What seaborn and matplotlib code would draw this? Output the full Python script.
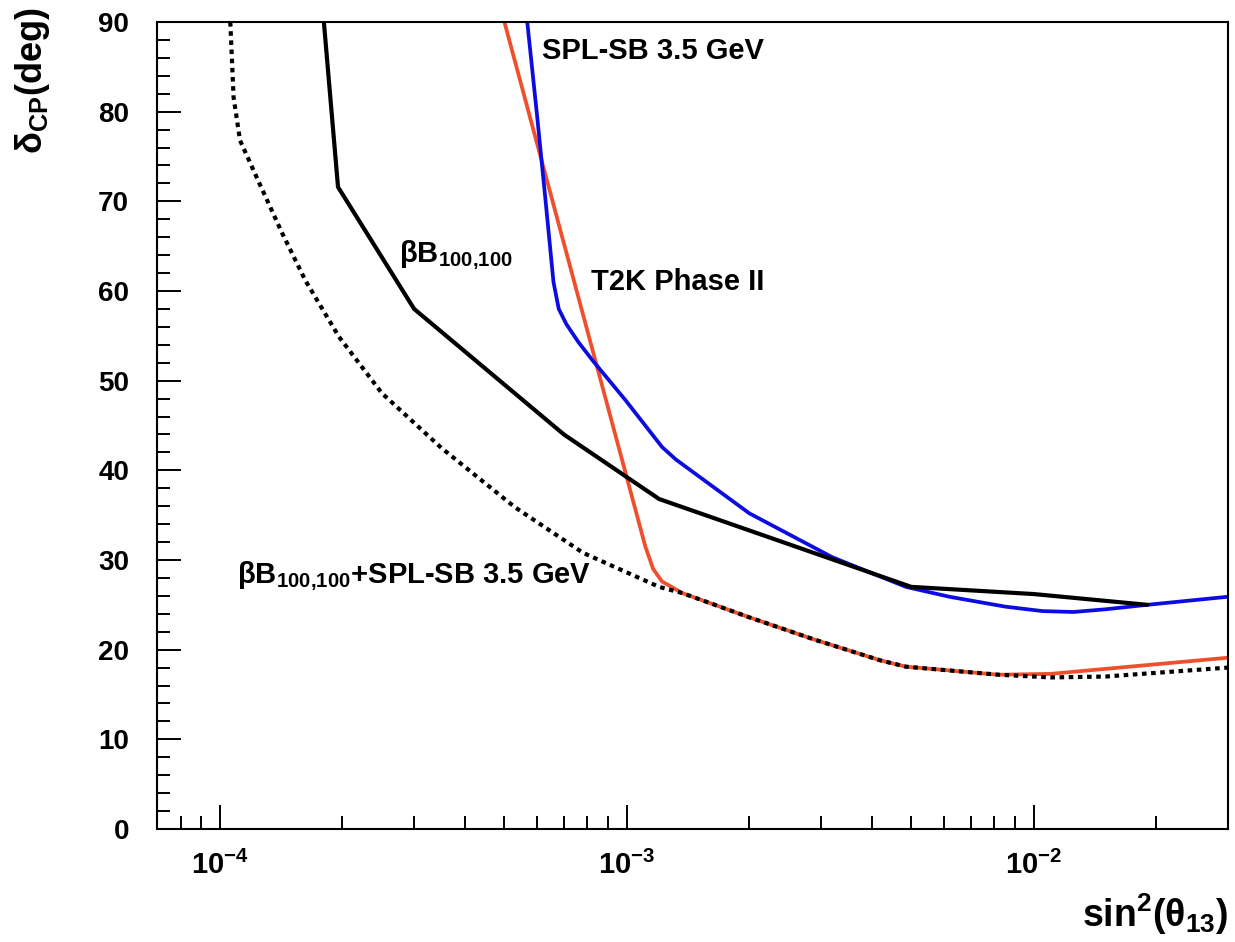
import matplotlib
matplotlib.use('Agg')
import matplotlib.pyplot as plt
import matplotlib.ticker as mticker
import pandas as pd
import seaborn as sns

# curves: x = sin^2(theta13), y = delta_CP (deg)
bb_x = [1.8e-4, 1.95e-4, 3.0e-4, 7.0e-4, 1.2e-3, 5.0e-3, 1.0e-2, 1.9e-2]
bb_y = [90, 71.6, 58.0, 44.0, 36.8, 27.0, 26.2, 25.0]

spl_x = [5.69e-4, 6.02e-4, 6.31e-4, 6.6e-4, 6.8e-4, 7.1e-4, 7.6e-4, 8.22e-4, 9.93e-4,
         1.22e-3, 1.32e-3, 2.0e-3, 3.2e-3, 4.85e-3, 6.2e-3, 8.5e-3, 1.05e-2, 1.25e-2,
         1.5e-2, 1.9e-2, 3.0e-2]
spl_y = [90, 79.4, 70.1, 61.0, 58.0, 56.3, 54.3, 52.3, 47.8,
         42.6, 41.2, 35.2, 30.3, 27.0, 25.9, 24.8, 24.3, 24.2,
         24.5, 25.0, 25.9]

t2k_x = [5.0e-4, 1.11e-3, 1.16e-3, 1.22e-3, 1.37e-3, 2.0e-3, 2.9e-3, 4.2e-3, 4.85e-3,
         8.2e-3, 1.1e-2, 3.0e-2]
t2k_y = [90, 31.5, 29.0, 27.6, 26.3, 23.6, 21.1, 18.8, 18.1, 17.2, 17.3, 19.1]

comb_x = [1.06e-4, 1.08e-4, 1.12e-4, 1.25e-4, 1.42e-4, 1.62e-4, 1.96e-4, 2.5e-4,
          3.5e-4, 5.3e-4, 7.8e-4, 1.2e-3, 1.37e-3, 2.0e-3, 2.9e-3, 4.2e-3,
          4.85e-3, 8.2e-3, 1.1e-2, 1.5e-2, 3.0e-2]
comb_y = [90, 81.6, 76.8, 72.0, 66.5, 61.2, 54.9, 48.6,
          42.5, 35.9, 30.8, 27.0, 26.3, 23.6, 21.1, 18.8,
          18.1, 17.2, 16.9, 17.0, 18.0]

sns.set_theme(style='ticks')
plt.rcParams['font.family'] = ['Liberation Sans', 'DejaVu Sans']
plt.rcParams['font.weight'] = 'bold'
plt.rcParams['axes.labelweight'] = 'bold'
plt.rcParams['text.color'] = 'black'
plt.rcParams['axes.labelcolor'] = 'black'
plt.rcParams['xtick.color'] = 'black'
plt.rcParams['ytick.color'] = 'black'
plt.rcParams['mathtext.default'] = 'regular'

red = '#ef4f2c'
blue = '#0c0ce0'

fig = plt.figure(figsize=(12.35, 9.42), dpi=100)
ax = fig.add_axes([0.1271, 0.1200, 0.8672, 0.8566])

bb = pd.DataFrame({'x': bb_x, 'y': bb_y})
spl = pd.DataFrame({'x': spl_x, 'y': spl_y})
t2k = pd.DataFrame({'x': t2k_x, 'y': t2k_y})
comb = pd.DataFrame({'x': comb_x, 'y': comb_y})

sns.lineplot(data=t2k, x='x', y='y', sort=False, estimator=None, color=red, lw=2.7,
             solid_joinstyle='round', ax=ax)
sns.lineplot(data=comb, x='x', y='y', sort=False, estimator=None, color='black', lw=3.0,
             linestyle=(0, (1.1, 1.1)), dash_capstyle='butt', ax=ax)
sns.lineplot(data=spl, x='x', y='y', sort=False, estimator=None, color=blue, lw=2.7,
             solid_joinstyle='round', ax=ax)
sns.lineplot(data=bb, x='x', y='y', sort=False, estimator=None, color='black', lw=3.0,
             ax=ax)

ax.set_xscale('log')
ax.set_xlim(7e-5, 3e-2)
ax.set_ylim(0, 90)

ax.xaxis.set_major_locator(mticker.LogLocator(base=10))
ax.xaxis.set_minor_locator(mticker.LogLocator(base=10, subs=range(2, 10)))
ax.xaxis.set_minor_formatter(mticker.NullFormatter())
ax.yaxis.set_major_locator(mticker.MultipleLocator(10))
ax.yaxis.set_minor_locator(mticker.MultipleLocator(2))

ax.tick_params(which='both', direction='in', top=False, right=False, width=1.4)
ax.tick_params(which='major', length=17, labelsize=20)
ax.tick_params(axis='x', which='major', labelsize=21, pad=16)
ax.tick_params(axis='y', which='major', pad=20)
ax.tick_params(which='minor', length=9.5)
for s in ax.spines.values():
    s.set_linewidth(1.5)
    s.set_color('black')

ax.set_xlabel(r'sin$^{2}$($\theta_{13}$)', fontsize=27, loc='right')
ax.xaxis.set_label_coords(1.0, -0.078)
ax.set_ylabel(r'$\delta_{CP}$(deg)', fontsize=26, loc='top')
ax.yaxis.set_label_coords(-0.098, 1.019)

ax.text(6.18e-4, 86.8, 'SPL-SB 3.5 GeV', fontsize=21, ha='left', va='center')
ax.text(8.14e-4, 61, 'T2K Phase II', fontsize=21, ha='left', va='center')
ax.text(2.75e-4, 63.2, r'$\beta B_{100{,}100}$', fontsize=21, ha='left', va='baseline')
ax.text(1.10e-4, 27.4, r'$\beta B_{100{,}100}$+SPL-SB 3.5 GeV', fontsize=21,
        ha='left', va='baseline')

fig.savefig('out.png', dpi=100)
plt.close()
